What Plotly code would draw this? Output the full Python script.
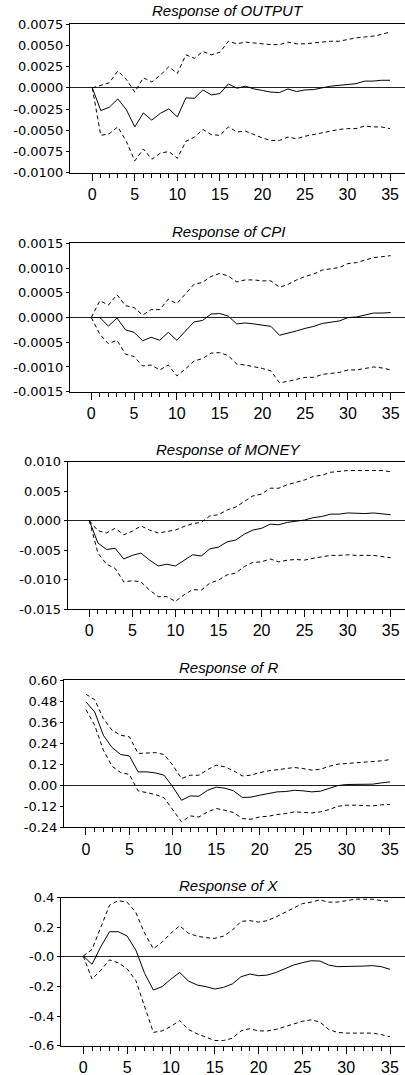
import plotly.graph_objects as go

periods = list(range(36))

output_resp = [0, -0.00267, -0.00228, -0.0013, -0.00256, -0.0046, -0.00295, -0.0038, -0.003, -0.00248,
               -0.00342, -0.00118, -0.00122, -0.00024, -0.00083, -0.00067, 0.00047, -0.00004, 0.0002, -0.00012,
               -0.0003, -0.0005, -0.00055, -0.00012, -0.00043, -0.00024, -0.0002, 0.00004, 0.0002, 0.0003,
               0.0004, 0.0005, 0.0008, 0.0008, 0.0009, 0.0009]
output_up = [0, 0.00028, 0.0006, 0.002, 0.001, -0.0005, 0.0012, 0.0007, 0.0015, 0.0025,
             0.0017, 0.0039, 0.0035, 0.0043, 0.0039, 0.0042, 0.0055, 0.0052, 0.0054, 0.0053,
             0.0052, 0.0051, 0.0051, 0.0054, 0.0052, 0.0052, 0.0053, 0.0054, 0.0055, 0.0055,
             0.0057, 0.0059, 0.006, 0.0061, 0.0063, 0.0066]
output_lo = [0, -0.0056, -0.0054, -0.0046, -0.0063, -0.0086, -0.0072, -0.0084, -0.0077, -0.0075,
             -0.0083, -0.0063, -0.0058, -0.0049, -0.0055, -0.0056, -0.0046, -0.0052, -0.0051, -0.0055,
             -0.0059, -0.0062, -0.0062, -0.0058, -0.006, -0.0057, -0.0055, -0.0053, -0.0051, -0.0049,
             -0.0048, -0.0048, -0.0045, -0.0046, -0.0046, -0.0048]

cpi_resp = [0, 0, -0.000175, -0.00001, -0.00025, -0.0003, -0.00047, -0.0004, -0.00046, -0.0003,
            -0.00046, -0.00028, -0.00009, -0.00006, 0.00007, 0.00008, 0.00003, -0.00013, -0.00011, -0.00013,
            -0.00016, -0.00018, -0.00036, -0.00032, -0.00027, -0.00022, -0.00018, -0.00012, -0.00009, -0.00007,
            0.0, 0.00001, 0.00005, 0.00009, 0.00009, 0.0001]
cpi_up = [0, 0.00034, 0.00025, 0.00046, 0.00024, 0.0002, 0.00005, 0.00016, 0.00016, 0.00037,
          0.00028, 0.00047, 0.00067, 0.00071, 0.00083, 0.00089, 0.00084, 0.00072, 0.00076, 0.00076,
          0.00074, 0.00074, 0.00061, 0.00067, 0.00076, 0.00083, 0.00088, 0.00096, 0.00098, 0.00101,
          0.00109, 0.00111, 0.00116, 0.00121, 0.00123, 0.00125]
cpi_lo = [0, -0.00034, -0.00053, -0.00046, -0.00074, -0.00079, -0.00098, -0.00096, -0.00106, -0.00096,
          -0.00118, -0.00104, -0.00088, -0.00083, -0.00072, -0.00071, -0.00077, -0.00094, -0.00096, -0.00099,
          -0.00103, -0.00108, -0.00132, -0.00129, -0.00125, -0.00121, -0.00121, -0.00115, -0.00113, -0.00111,
          -0.00106, -0.00106, -0.00103, -0.001, -0.00102, -0.00106]

money_resp = [0, -0.0038, -0.0049, -0.0047, -0.0065, -0.0059, -0.0055, -0.0067, -0.0077, -0.0074,
              -0.0077, -0.0067, -0.0058, -0.006, -0.0048, -0.0045, -0.0036, -0.0033, -0.0023, -0.0016,
              -0.0013, -0.0006, -0.0007, -0.0003, -0.0001, 0.0001, 0.0005, 0.0007, 0.0011, 0.0011,
              0.0013, 0.0012, 0.0012, 0.0013, 0.0012, 0.001]
money_up = [0, -0.0017, -0.0021, -0.0013, -0.0024, -0.0018, -0.0009, -0.0016, -0.0021, -0.0018,
            -0.0016, -0.001, -0.0005, -0.0003, 0.0008, 0.001, 0.0018, 0.0023, 0.0032, 0.0042,
            0.0045, 0.0055, 0.0055, 0.0061, 0.0065, 0.0069, 0.0075, 0.0077, 0.0082, 0.0084,
            0.0085, 0.0085, 0.0085, 0.0086, 0.0085, 0.0083]
money_lo = [0, -0.0055, -0.0074, -0.0081, -0.0104, -0.0102, -0.0104, -0.0118, -0.0129, -0.0129,
            -0.0137, -0.0126, -0.0117, -0.0118, -0.0106, -0.0101, -0.0092, -0.0089, -0.0078, -0.0071,
            -0.007, -0.0065, -0.007, -0.0067, -0.0066, -0.0067, -0.0064, -0.0062, -0.0059, -0.0059,
            -0.0058, -0.0059, -0.0059, -0.0059, -0.0061, -0.0063]

r_resp = [0.475, 0.418, 0.285, 0.215, 0.175, 0.167, 0.076, 0.076, 0.07, 0.057,
          -0.01, -0.086, -0.061, -0.063, -0.029, -0.011, -0.017, -0.032, -0.07, -0.068,
          -0.057, -0.049, -0.038, -0.036, -0.029, -0.032, -0.038, -0.034, -0.017, -0.002,
          0.004, 0.006, 0.008, 0.006, 0.013, 0.019]
r_up = [0.519, 0.488, 0.38, 0.314, 0.285, 0.276, 0.181, 0.184, 0.186, 0.175,
        0.114, 0.038, 0.057, 0.057, 0.089, 0.114, 0.105, 0.082, 0.053, 0.057,
        0.072, 0.082, 0.089, 0.095, 0.101, 0.095, 0.086, 0.091, 0.108, 0.12,
        0.124, 0.127, 0.133, 0.133, 0.139, 0.146]
r_lo = [0.431, 0.342, 0.2, 0.108, 0.072, 0.061, -0.032, -0.044, -0.053, -0.072,
        -0.143, -0.209, -0.175, -0.181, -0.152, -0.133, -0.143, -0.156, -0.19, -0.194,
        -0.181, -0.177, -0.167, -0.162, -0.152, -0.156, -0.158, -0.152, -0.139, -0.12,
        -0.114, -0.114, -0.114, -0.118, -0.112, -0.11]

x_resp = [0.006, -0.05, 0.069, 0.17, 0.17, 0.141, 0.046, -0.111, -0.224, -0.201,
          -0.15, -0.105, -0.163, -0.19, -0.201, -0.217, -0.206, -0.183, -0.134, -0.116,
          -0.127, -0.123, -0.105, -0.082, -0.055, -0.039, -0.026, -0.028, -0.055, -0.066,
          -0.066, -0.062, -0.062, -0.059, -0.066, -0.084]
x_up = [0.006, 0.05, 0.2, 0.35, 0.38, 0.37, 0.3, 0.16, 0.055, 0.1,
        0.16, 0.21, 0.16, 0.14, 0.13, 0.125, 0.14, 0.18, 0.24, 0.245,
        0.235, 0.245, 0.27, 0.3, 0.33, 0.36, 0.37, 0.385, 0.37, 0.37,
        0.38, 0.39, 0.39, 0.39, 0.38, 0.375]
x_lo = [0.006, -0.15, -0.09, -0.02, -0.04, -0.08, -0.16, -0.33, -0.51, -0.5,
        -0.47, -0.43, -0.49, -0.52, -0.54, -0.565, -0.565, -0.55, -0.5, -0.485,
        -0.5, -0.5, -0.49, -0.47, -0.45, -0.435, -0.425, -0.44, -0.49, -0.51,
        -0.515, -0.515, -0.52, -0.515, -0.525, -0.54]

titles = ["Response of OUTPUT", "Response of CPI", "Response of MONEY", "Response of R", "Response of X"]

y_tickvals = [
    [0.0075, 0.005, 0.0025, 0.0, -0.0025, -0.005, -0.0075, -0.01],
    [0.0015, 0.001, 0.0005, 0.0, -0.0005, -0.001, -0.0015],
    [0.01, 0.005, 0.0, -0.005, -0.01, -0.015],
    [0.6, 0.48, 0.36, 0.24, 0.12, 0.0, -0.12, -0.24],
    [0.4, 0.2, 0.0, -0.2, -0.4, -0.6],
]
y_ticktext = [
    ["0.0075", "0.0050", "0.0025", "0.0000", "-0.0025", "-0.0050", "-0.0075", "-0.0100"],
    ["0.0015", "0.0010", "0.0005", "0.0000", "-0.0005", "-0.0010", "-0.0015"],
    ["0.010", "0.005", "0.000", "-0.005", "-0.010", "-0.015"],
    ["0.60", "0.48", "0.36", "0.24", "0.12", "0.00", "-0.12", "-0.24"],
    ["0.4", "0.2", "-0.0", "-0.2", "-0.4", "-0.6"],
]
x_tickvals = [0, 5, 10, 15, 20, 25, 30, 35]

series = [
    (output_resp, output_up, output_lo),
    (cpi_resp, cpi_up, cpi_lo),
    (money_resp, money_up, money_lo),
    (r_resp, r_up, r_lo),
    (x_resp, x_up, x_lo),
]

W, H = 405, 1075
left_px = [70, 70, 67.7, 64, 61]
top_px = [24.3, 243.3, 461.7, 680, 897.7]
bot_px = [172.7, 391.7, 609, 827.3, 1045.7]
title_px = [11.0, 232.0, 449.5, 667.0, 885.5]
x_ranges = [[-2.62, 36.76], [-2.49, 36.67], [-2.51, 36.66], [-2.53, 36.73], [-2.54, 36.71]]

fig = go.Figure()
for i, (resp, up, lo) in enumerate(series):
    ax = "" if i == 0 else str(i + 1)
    fig.add_trace(go.Scatter(x=periods, y=resp, mode="lines", line=dict(color="black", width=1),
                             xaxis="x" + ax, yaxis="y" + ax, showlegend=False, hoverinfo="skip"))
    for band in (up, lo):
        fig.add_trace(go.Scatter(x=periods, y=band, mode="lines",
                                 line=dict(color="black", width=1, dash="4px,3px"),
                                 xaxis="x" + ax, yaxis="y" + ax, showlegend=False, hoverinfo="skip"))

    xa = dict(
        domain=[left_px[i] / W, 1.0], range=x_ranges[i], anchor="y" + ax, automargin=False,
        showline=True, linecolor="black", linewidth=1, mirror=True,
        showgrid=False, zeroline=False,
        tickmode="array", tickvals=x_tickvals, ticks="outside", ticklen=7, tickwidth=1, tickcolor="black",
        minor=dict(tickmode="array", tickvals=periods, ticks="outside", ticklen=4, tickwidth=1, tickcolor="black"),
        tickfont=dict(family="Liberation Sans, Arial", size=16, color="black"),
        fixedrange=True,
    )
    ya = dict(
        domain=[1 - bot_px[i] / H, 1 - top_px[i] / H], automargin=False,
        range=[min(y_tickvals[i]), max(y_tickvals[i])], anchor="x" + ax,
        showline=True, linecolor="black", linewidth=1,
        showgrid=False, zeroline=True, zerolinecolor="#222222", zerolinewidth=1,
        tickmode="array", tickvals=y_tickvals[i], ticktext=y_ticktext[i],
        ticks="outside", ticklen=3, tickwidth=1, tickcolor="black",
        tickfont=dict(family="DejaVu Sans", size=13, color="black"),
        fixedrange=True,
    )
    fig.layout["xaxis" + ax] = xa
    fig.layout["yaxis" + ax] = ya
    fig.add_annotation(text="<i>" + titles[i] + "</i>", xref="paper", yref="paper",
                       x=228 / W, y=1 - title_px[i] / H, xanchor="center", yanchor="middle",
                       showarrow=False, font=dict(family="Liberation Sans, Arial", size=15, color="black"))

fig.update_layout(width=W, height=H, margin=dict(l=0, r=0, t=0, b=0, autoexpand=False),
                  paper_bgcolor="white", plot_bgcolor="white")
fig.write_html(
    "out.html",
    config={"displayModeBar": False, "staticPlot": True},
    post_script="document.documentElement.style.margin='0';document.body.style.margin='0';"
                "document.body.style.padding='0';document.documentElement.style.overflow='hidden';",
)
